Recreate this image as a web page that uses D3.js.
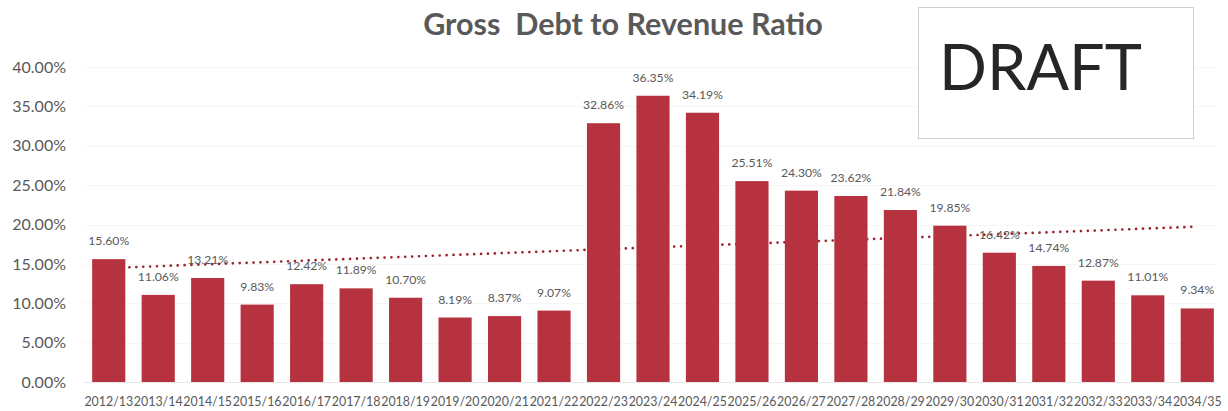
<!DOCTYPE html>
<html>
<head>
<meta charset="utf-8">
<script src="https://cdn.jsdelivr.net/npm/d3@7"></script>
<style>
  html, body { margin: 0; padding: 0; background: #ffffff; }
  svg { display: block; }
  text { font-family: Lato, "Open Sans", sans-serif; }
</style>
</head>
<body>
<svg id="chart" width="1228" height="411"></svg>
<script>
// Financial years on the category axis
const years = [
  "2012/13", "2013/14", "2014/15", "2015/16", "2016/17", "2017/18",
  "2018/19", "2019/20", "2020/21", "2021/22", "2022/23", "2023/24",
  "2024/25", "2025/26", "2026/27", "2027/28", "2028/29", "2029/30",
  "2030/31", "2031/32", "2032/33", "2033/34", "2034/35"
];

// Gross debt as a percentage of revenue, per year
const ratios = [
  15.60, 11.06, 13.21, 9.83, 12.42, 11.89, 10.70, 8.19, 8.37, 9.07,
  32.86, 36.35, 34.19, 25.51, 24.30, 23.62, 21.84, 19.85, 16.42,
  14.74, 12.87, 11.01, 9.34
];

// Value-axis ticks (percent)
const yTicks = [0, 5, 10, 15, 20, 25, 30, 35, 40];

const titleText = "Gross  Debt to Revenue Ratio";
const stampText = "DRAFT";

const svg = d3.select("#chart");

const plot = { left: 84, right: 1222, top: 67, bottom: 382 };

const x = d3.scaleBand()
  .domain(years)
  .range([plot.left, plot.right])
  .paddingInner(0.33)
  .paddingOuter(0.165);

const y = d3.scaleLinear()
  .domain([0, 40])
  .range([plot.bottom, plot.top]);

const fmt = v => v.toFixed(2) + "%";

// Very faint horizontal gridlines
svg.append("g")
  .selectAll("line")
  .data(yTicks.slice(1))
  .join("line")
  .attr("x1", plot.left)
  .attr("x2", plot.right - 6)
  .attr("y1", d => Math.round(y(d)) + 0.5)
  .attr("y2", d => Math.round(y(d)) + 0.5)
  .attr("stroke", "#f6f6f6")
  .attr("stroke-width", 1);

// Value axis labels
const yAxis = d3.axisLeft(y)
  .tickValues(yTicks)
  .tickFormat(fmt)
  .tickSize(0)
  .tickPadding(0);

svg.append("g")
  .attr("transform", "translate(66,0)")
  .call(yAxis)
  .call(g => g.select(".domain").remove())
  .call(g => g.selectAll("text")
    .attr("fill", "#595959")
    .style("font-size", "16px")
    .style("font-family", "Lato, sans-serif"));

// Linear trendline (least squares over the category index)
const n = ratios.length;
const xm = d3.mean(ratios, (d, i) => i);
const ym = d3.mean(ratios);
const sxy = d3.sum(ratios, (d, i) => (i - xm) * (d - ym));
const sxx = d3.sum(ratios, (d, i) => (i - xm) * (i - xm));
const slope = sxy / sxx;
const intercept = ym - slope * xm;
const trendPts = [0, n - 1].map(i => [x(years[i]) + x.bandwidth() / 2, y(intercept + slope * i)]);

svg.append("path")
  .attr("d", d3.line()(trendPts))
  .attr("fill", "none")
  .attr("stroke", "#9a2430")
  .attr("stroke-width", 2.7)
  .attr("stroke-linecap", "round")
  .attr("stroke-dasharray", "0 6.9");

// Bars
svg.append("g")
  .selectAll("rect")
  .data(ratios)
  .join("rect")
  .attr("x", (d, i) => x(years[i]))
  .attr("y", d => y(d))
  .attr("width", x.bandwidth())
  .attr("height", d => y(0) - y(d))
  .attr("fill", "#b6323e");

// Category axis baseline
svg.append("line")
  .attr("x1", plot.left)
  .attr("x2", plot.right - 6)
  .attr("y1", plot.bottom + 0.5)
  .attr("y2", plot.bottom + 0.5)
  .attr("stroke", "#e6e6e6")
  .attr("stroke-width", 1);

// Category labels
const xAxis = d3.axisBottom(x).tickSize(0).tickPadding(0);
svg.append("g")
  .attr("transform", `translate(0,${plot.bottom})`)
  .call(xAxis)
  .call(g => g.select(".domain").remove())
  .call(g => g.selectAll("text")
    .attr("dy", null)
    .attr("y", 24)
    .attr("fill", "#595959")
    .style("font-size", "12.4px")
    .style("font-family", "Lato, sans-serif"));

// Data labels above each bar
svg.append("g")
  .selectAll("text")
  .data(ratios)
  .join("text")
  .attr("x", (d, i) => x(years[i]) + x.bandwidth() / 2)
  .attr("y", d => y(d) - 14)
  .attr("text-anchor", "middle")
  .attr("fill", "#595959")
  .style("font-size", "12.2px")
  .text(fmt);

// Title
svg.append("text")
  .attr("x", 623)
  .attr("y", 35)
  .attr("text-anchor", "middle")
  .attr("fill", "#595959")
  .style("font-size", "30.5px")
  .style("font-weight", "700")
  .style("white-space", "pre")
  .attr("xml:space", "preserve")
  .text(titleText);

// Draft stamp box
svg.append("rect")
  .attr("x", 918.5)
  .attr("y", 7.5)
  .attr("width", 275)
  .attr("height", 131)
  .attr("fill", "#ffffff")
  .attr("stroke", "#cfcfcf")
  .attr("stroke-width", 1);

svg.append("text")
  .attr("x", 939)
  .attr("y", 90)
  .attr("fill", "#262626")
  .style("font-size", "63px")
  .text(stampText);
</script>
</body>
</html>
